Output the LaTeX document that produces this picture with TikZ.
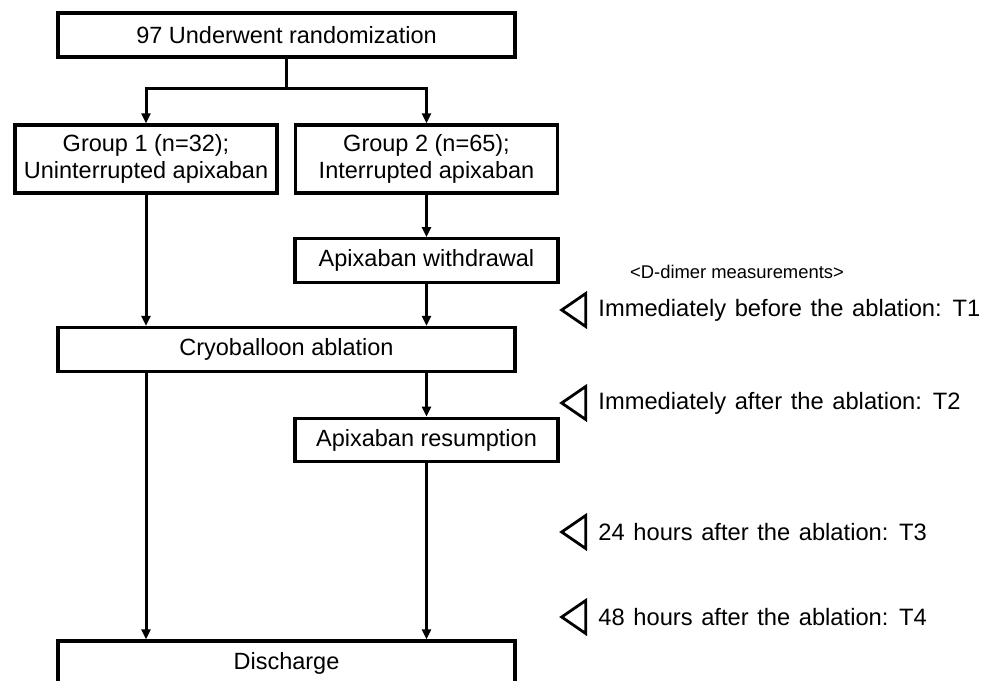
\documentclass[tikz,border=0pt]{standalone}
\usepackage{fontspec}
\setmainfont{Liberation Sans}
\usetikzlibrary{arrows.meta,positioning,shapes.geometric}
\newcommand\notefont{\fontsize{11.85}{13.5}\selectfont\spaceskip=4.3pt plus 1pt\relax}

\begin{document}
\begin{tikzpicture}[
    x=0.5pt, y=-0.5pt,
    box/.style={draw, line width=1.6pt, inner sep=0pt, align=center,
                font=\fontsize{11.75}{13.5}\selectfont},
    widebox/.style={box, minimum width=228.5pt, minimum height=22pt},
    groupbox/.style={box, minimum width=131pt, minimum height=34pt},
    stepbox/.style={box, minimum width=131.5pt, minimum height=21.75pt},
    arr/.style={-{Triangle[length=5pt, width=4.5pt]}, line width=1.5pt},
    tmark/.style={draw, line width=1.4pt, isosceles triangle, shape border rotate=180,
                  isosceles triangle stretches, minimum width=16.5pt,
                  minimum height=12pt, inner sep=0pt},
    note/.style={inner sep=0pt, font=\notefont},
]
    \useasboundingbox (0,0) rectangle (988,680);

    % flow boxes
    \node[widebox] (rand) at (286.5,35) {97 Underwent randomization};
    \node[groupbox] (g1) at (146,159) {Group 1 (n=32);\\Uninterrupted apixaban};
    \node[groupbox] (g2) at (426.5,159) {Group 2 (n=65);\\Interrupted apixaban};
    \node[stepbox] (wd) at (426.5,260.5) {Apixaban withdrawal};
    \node[widebox] (cryo) at (286.5,349.5) {Cryoballoon ablation};
    \node[stepbox] (res) at (426.5,440) {Apixaban resumption};
    \node[widebox] (dis) at (286.5,663) {Discharge};

    \coordinate (split) at (286.5,88);
    \draw[line width=1.5pt] (rand) -- (split);
    \draw[arr] (split) -| (g1);
    \draw[arr] (split) -| (g2);
    \draw[arr] (g1) -- (g1 |- cryo.north);
    \draw[arr] (g2) -- (wd);
    \draw[arr] (wd) -- (wd |- cryo.north);
    \draw[arr] (res |- cryo.south) -- (res);
    \draw[arr] (g1 |- cryo.south) -- (g1 |- dis.north);
    \draw[arr] (res) -- (res |- dis.north);

    % measurement points
    \node[font=\fontsize{9.2}{11}\selectfont] (hdr) at (737,272) {<D-dimer measurements>};
    \node[tmark] (m1) at (577,310) {};
    \node[note, right=5.5pt of m1] (t1) {Immediately before the ablation: T1};
    \node[tmark] (m2) at (577,403) {};
    \node[note, right=5.5pt of m2] (t2) {Immediately after the ablation: T2};
    \node[tmark] (m3) at (577,532) {};
    \node[note, right=5.5pt of m3] (t3) {24 hours after the ablation: T3};
    \node[tmark] (m4) at (577,617) {};
    \node[note, right=5.5pt of m4] (t4) {48 hours after the ablation: T4};
\end{tikzpicture}
\end{document}
